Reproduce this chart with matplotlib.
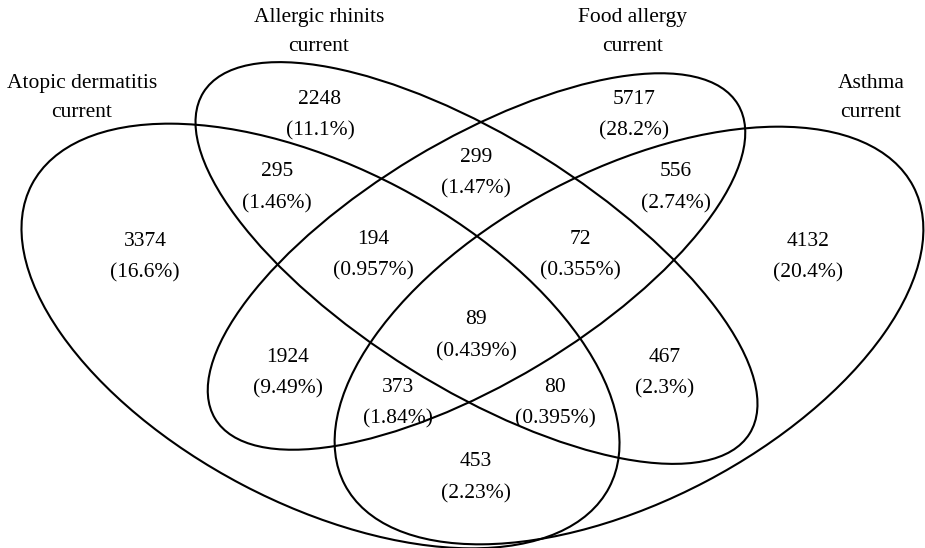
# Four-set Venn diagram (current conditions)
import matplotlib
matplotlib.use("Agg")
import matplotlib.pyplot as plt
from matplotlib.patches import Ellipse

plt.rcParams['font.family'] = ['Liberation Serif', 'DejaVu Serif']

# Set names
categories = ["Atopic dermatitis\ncurrent", "Allergic rhinits\ncurrent",
              "Food allergy\ncurrent", "Asthma\ncurrent"]

# Region counts and shares, as printed
counts = [3374, 2248, 5717, 4132, 295, 299, 556, 194, 72,
          89, 1924, 467, 373, 80, 453]
shares = ["16.6%", "11.1%", "28.2%", "20.4%", "1.46%", "1.47%", "2.74%",
          "0.957%", "0.355%", "0.439%", "9.49%", "2.3%", "1.84%",
          "0.395%", "2.23%"]

# Layout (pixel space, y down)
region_xy = [(145, 242), (320, 100), (634, 100), (808, 242), (277, 173),
             (476, 158), (676, 173), (373, 240), (580, 240), (476, 321),
             (288, 358), (665, 358), (398, 388), (555, 388), (476, 463)]
cat_xy = [(82, 98), (319, 32), (633, 32), (871, 98)]

# ellipses: centre, semi-axes, angle
shapes = [((320.5, 336), 326, 168, 27.7),
          ((476.5, 263), 322, 125, 32.0),
          ((476.5, 261.5), 305, 121, -31.0),
          ((629, 335.5), 321, 165, -27.7)]

fig = plt.figure(figsize=(9.25, 5.48), dpi=100)
ax = fig.add_axes([0, 0, 1, 1])
ax.set_xlim(0, 925)
ax.set_ylim(548, 0)
ax.axis('off')

for (c, a, b, ang) in shapes:
    ax.add_patch(Ellipse(c, 2 * a, 2 * b, angle=ang, fill=False,
                         edgecolor='black', lw=1.5))

for (x, y), n, s in zip(region_xy, counts, shares):
    ax.text(x, y - 1, str(n), ha='center', va='center', fontsize=15.5)
    ax.text(x, y + 31, "(" + s + ")", ha='center', va='center', fontsize=15.5)

for (x, y), name in zip(cat_xy, categories):
    ax.text(x, y, name, ha='center', va='center', fontsize=15.5,
            linespacing=1.75)

fig.savefig("out.png", dpi=100, facecolor='white')
